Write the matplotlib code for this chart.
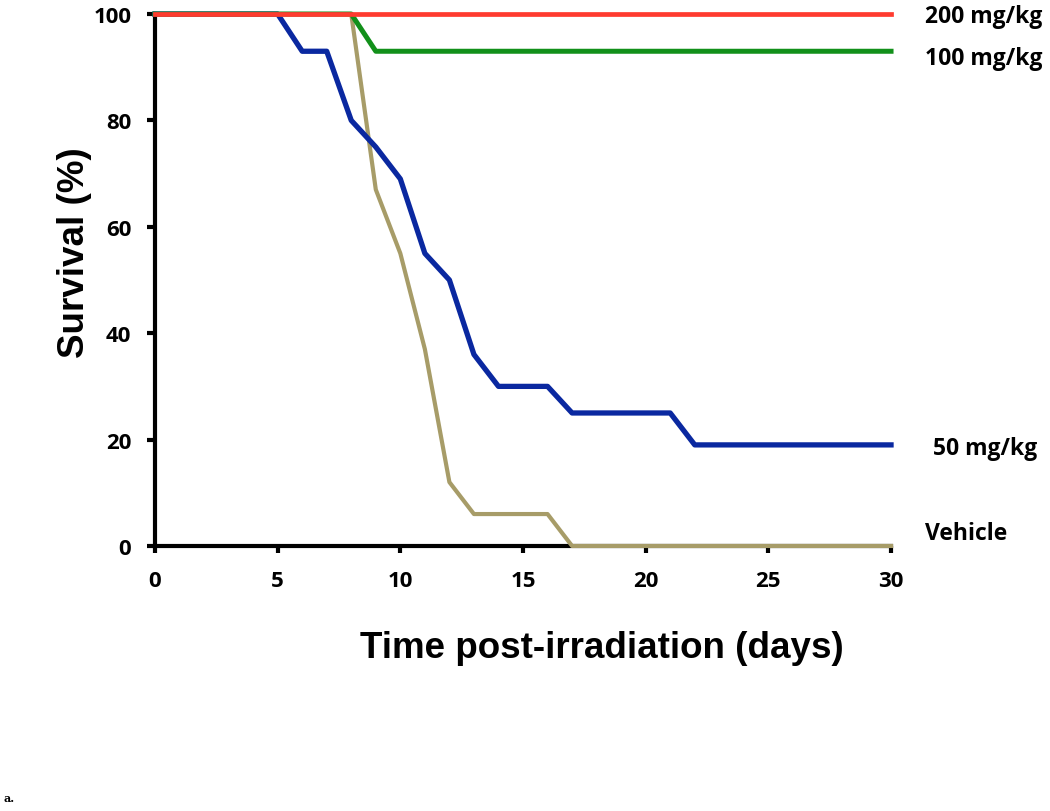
import numpy as np
import matplotlib
matplotlib.use('Agg')
import matplotlib.pyplot as plt

# survival curves (day, % surviving)
days_200 = [0, 30]
surv_200 = [100, 100]

days_100 = [0, 8, 9, 30]
surv_100 = [100, 100, 93, 93]

days_50 = [0, 5, 6, 7, 8, 9, 10, 11, 12, 13, 14, 16, 17, 21, 22, 30]
surv_50 = [100, 100, 93, 93, 80, 75, 69, 55, 50, 36, 30, 30, 25, 25, 19, 19]

days_veh = [0, 8, 9, 10, 11, 12, 13, 16, 17, 30]
surv_veh = [100, 100, 67, 55, 37, 12, 6, 6, 0, 0]

C_200 = '#FF3B2F'
C_100 = '#12901A'
C_50 = '#0A28A0'
C_VEH = '#A79C68'

fig = plt.figure(figsize=(10.5, 8.12), dpi=100)
ax = fig.add_axes([0.1476, 0.3264, 0.7010, 0.6551])

ax.plot(days_veh, surv_veh, color=C_VEH, lw=3.0, clip_on=False, zorder=3)
ax.plot(days_50, surv_50, color=C_50, lw=3.8, clip_on=False, zorder=4)
ax.plot(days_100, surv_100, color=C_100, lw=3.6, clip_on=False, zorder=5)
ax.plot(days_200, surv_200, color=C_200, lw=3.4, clip_on=False, zorder=6)

ax.set_xlim(0, 30)
ax.set_ylim(0, 100)
ax.set_xticks([0, 5, 10, 15, 20, 25, 30])
ax.set_yticks([0, 20, 40, 60, 80, 100])

for s in ['top', 'right']:
    ax.spines[s].set_visible(False)
for s in ['left', 'bottom']:
    ax.spines[s].set_linewidth(3.0)
ax.tick_params(axis='y', width=3.0, length=6, labelsize=16, pad=11)
ax.tick_params(axis='x', width=3.0, length=5, labelsize=16, pad=12)
for lab in ax.get_xticklabels() + ax.get_yticklabels():
    lab.set_fontweight('bold')
    lab.set_family('Open Sans')

ax.set_xlabel('Time post-irradiation (days)', fontsize=26.5, fontweight='bold',
              family='Liberation Sans')
ax.xaxis.set_label_coords(0.607, -0.158)
ax.set_ylabel('Survival (%)', fontsize=26.5, fontweight='bold',
              family='Liberation Sans', labelpad=1)
ax.yaxis.label.set_y(0.553)

lab_kw = dict(fontsize=16.5, fontweight='bold', family='Open Sans',
              va='center', ha='left', clip_on=False)
ax.text(31.4, 99.6, '200 mg/kg', **lab_kw)
ax.text(31.4, 91.7, '100 mg/kg', **lab_kw)
ax.text(31.7, 18.4, '50 mg/kg', **lab_kw)
ax.text(31.4, 2.4, 'Vehicle', **lab_kw)

fig.text(0.003, 0.012, 'a.', fontsize=8, fontweight='bold', family='DejaVu Serif')

fig.savefig('out.png', dpi=100, facecolor='white')
